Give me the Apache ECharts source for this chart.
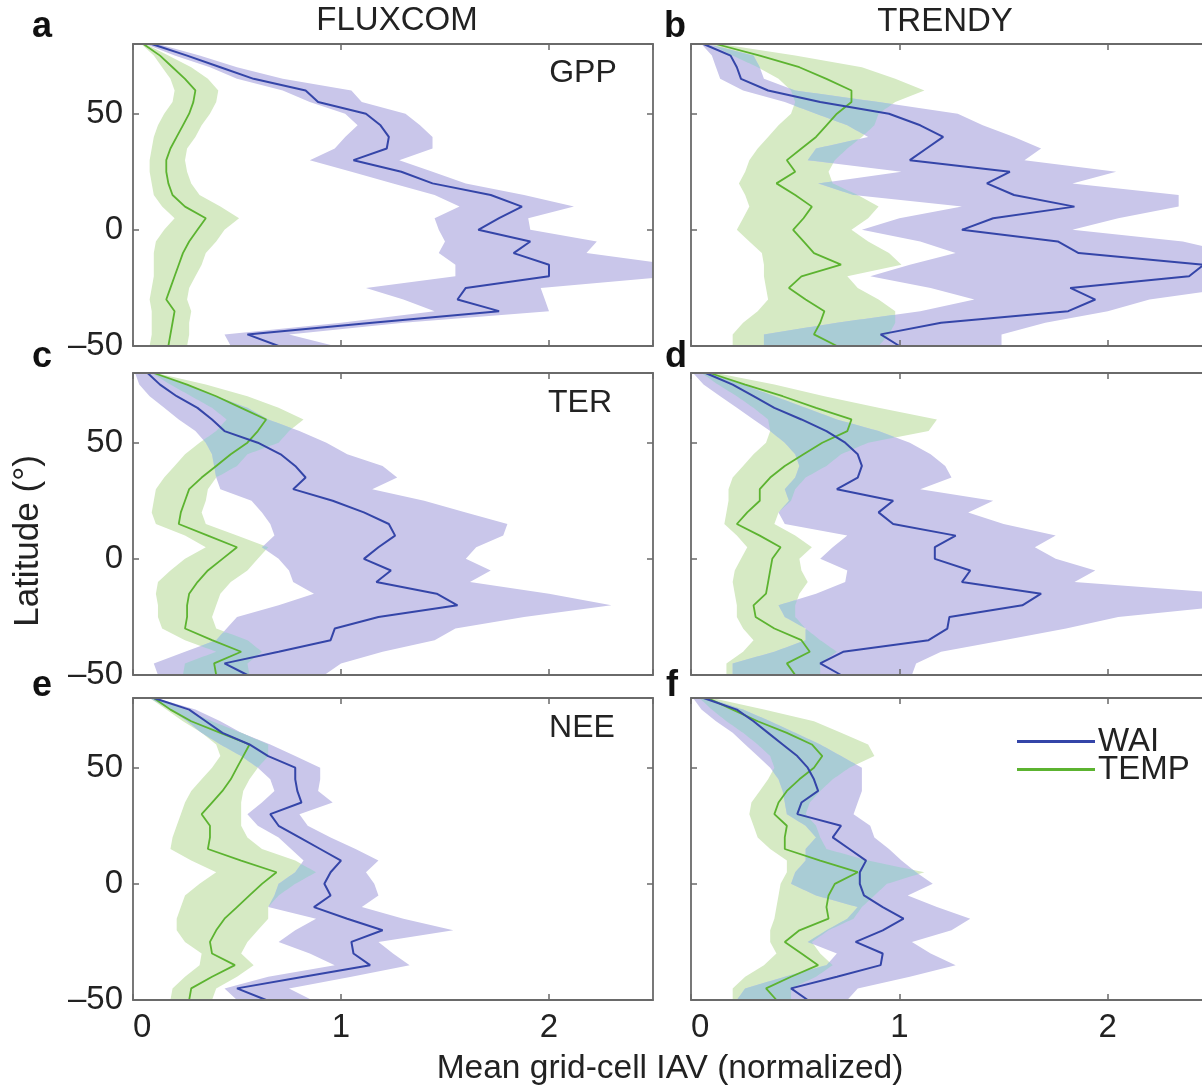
<!DOCTYPE html>
<html><head><meta charset="utf-8">
<script src="https://cdn.jsdelivr.net/npm/echarts@6/dist/echarts.min.js"></script>
<style>html,body{margin:0;padding:0;background:#fff;overflow:hidden;width:1202px;height:1089px}#c{width:1230px;height:1089px}</style>
</head><body><div id="c"></div>
<script>
// Latitude grid (degrees)
const LAT = [80,75,70,65,60,55,50,45,40,35,30,25,20,15,10,5,0,-5,-10,-15,-20,-25,-30,-35,-40,-45,-50,-55];

// a: FLUXCOM GPP
const aWai    = [0.09,0.26,0.42,0.58,0.83,0.89,1.12,1.19,1.23,1.22,1.06,1.29,1.44,1.72,1.87,1.76,1.66,1.91,1.83,2.00,2.00,1.60,1.56,1.76,1.15,0.55,0.70,0.80];
const aWaiLo  = [0.06,0.20,0.37,0.50,0.72,0.85,1.02,1.08,1.02,0.97,0.85,1.05,1.25,1.45,1.57,1.45,1.47,1.50,1.47,1.55,1.55,1.12,1.30,1.45,1.00,0.44,0.47,0.50];
const aWaiHi  = [0.12,0.32,0.50,0.72,1.05,1.10,1.31,1.38,1.44,1.44,1.28,1.44,1.60,1.88,2.12,1.90,1.91,2.23,2.18,2.60,2.60,1.96,1.98,2.00,1.30,0.75,0.97,1.00];
const aTemp   = [0.05,0.13,0.19,0.25,0.30,0.29,0.27,0.24,0.21,0.18,0.16,0.16,0.17,0.19,0.25,0.35,0.31,0.27,0.24,0.22,0.20,0.18,0.16,0.20,0.19,0.18,0.17,0.17];
const aTempLo = [0.04,0.10,0.14,0.18,0.20,0.19,0.15,0.12,0.10,0.09,0.08,0.08,0.09,0.10,0.14,0.20,0.15,0.11,0.10,0.10,0.10,0.09,0.08,0.09,0.09,0.09,0.08,0.08];
const aTempHi = [0.06,0.17,0.28,0.36,0.41,0.40,0.37,0.33,0.30,0.26,0.25,0.26,0.28,0.32,0.42,0.51,0.44,0.40,0.35,0.33,0.30,0.27,0.26,0.28,0.27,0.27,0.26,0.26];

// b: TRENDY GPP
const bWai    = [0.06,0.19,0.22,0.24,0.37,0.62,0.95,1.10,1.21,1.13,1.05,1.53,1.42,1.55,1.84,1.45,1.30,1.76,1.86,2.46,2.39,1.82,1.94,1.81,1.20,0.91,1.00,1.05];
const bWaiLo  = [0.05,0.10,0.12,0.14,0.25,0.45,0.60,0.75,0.85,0.60,0.56,1.01,0.61,0.78,1.30,1.00,0.82,1.10,1.27,1.05,0.86,1.15,1.36,1.10,0.70,0.35,0.35,0.35];
const bWaiHi  = [0.08,0.30,0.33,0.35,0.50,0.90,1.28,1.40,1.55,1.68,1.60,2.04,1.83,2.34,2.34,2.05,1.83,2.36,2.60,2.60,2.60,2.60,2.20,2.00,1.70,1.49,1.49,1.49];
const bTemp   = [0.12,0.33,0.52,0.65,0.77,0.77,0.70,0.65,0.60,0.53,0.46,0.50,0.41,0.50,0.58,0.54,0.49,0.54,0.59,0.72,0.53,0.47,0.55,0.64,0.62,0.59,0.70,0.72];
const bTempLo = [0.09,0.20,0.32,0.42,0.48,0.50,0.48,0.42,0.37,0.32,0.28,0.26,0.23,0.26,0.28,0.25,0.22,0.28,0.34,0.35,0.35,0.36,0.37,0.32,0.25,0.20,0.20,0.20];
const bTempHi = [0.14,0.50,0.82,0.98,1.12,0.98,0.90,0.88,0.82,0.75,0.69,0.66,0.68,0.80,0.90,0.85,0.77,0.85,0.95,1.01,0.75,0.80,0.90,0.98,0.98,0.95,0.90,0.90];

// c: FLUXCOM TER
const cWai    = [0.07,0.13,0.21,0.31,0.38,0.44,0.60,0.71,0.78,0.83,0.77,0.96,1.11,1.23,1.26,1.18,1.11,1.24,1.17,1.46,1.56,1.18,0.97,0.95,0.70,0.44,0.55,0.62];
const cWaiLo  = [0.01,0.03,0.08,0.15,0.22,0.30,0.35,0.38,0.39,0.40,0.42,0.57,0.62,0.66,0.68,0.62,0.70,0.75,0.77,0.87,0.70,0.50,0.45,0.40,0.25,0.10,0.12,0.15];
const cWaiHi  = [0.09,0.25,0.40,0.55,0.65,0.80,0.93,1.03,1.20,1.27,1.15,1.40,1.60,1.80,1.78,1.65,1.60,1.72,1.62,2.00,2.30,1.88,1.55,1.45,1.20,1.00,0.92,0.95];
const cTemp   = [0.10,0.26,0.40,0.52,0.64,0.60,0.55,0.47,0.40,0.33,0.27,0.25,0.23,0.22,0.36,0.50,0.43,0.36,0.31,0.27,0.26,0.26,0.25,0.38,0.52,0.39,0.40,0.40];
const cTempLo = [0.09,0.18,0.28,0.38,0.45,0.40,0.32,0.25,0.20,0.15,0.11,0.10,0.09,0.11,0.25,0.35,0.25,0.18,0.12,0.11,0.12,0.12,0.14,0.25,0.40,0.25,0.24,0.24];
const cTempHi = [0.11,0.35,0.55,0.70,0.82,0.75,0.70,0.55,0.50,0.40,0.36,0.35,0.33,0.35,0.50,0.65,0.60,0.55,0.47,0.42,0.40,0.38,0.40,0.55,0.62,0.55,0.56,0.56];

// d: TRENDY TER
const dWai    = [0.07,0.20,0.30,0.40,0.53,0.65,0.74,0.80,0.82,0.80,0.70,0.97,0.90,0.97,1.27,1.17,1.17,1.34,1.30,1.68,1.59,1.24,1.23,1.14,0.73,0.62,0.72,0.78];
const dWaiLo  = [0.01,0.06,0.14,0.22,0.30,0.38,0.45,0.50,0.52,0.50,0.45,0.47,0.42,0.45,0.75,0.68,0.62,0.75,0.74,0.60,0.42,0.45,0.55,0.55,0.40,0.20,0.20,0.22];
const dWaiHi  = [0.08,0.25,0.40,0.55,0.70,0.90,1.05,1.15,1.22,1.25,1.10,1.45,1.33,1.50,1.75,1.65,1.75,1.94,1.84,2.60,2.60,2.05,1.80,1.50,1.20,1.08,1.06,1.06];
const dTemp   = [0.09,0.26,0.44,0.60,0.77,0.75,0.63,0.54,0.45,0.38,0.33,0.33,0.27,0.22,0.33,0.43,0.39,0.38,0.37,0.36,0.30,0.31,0.40,0.53,0.57,0.46,0.50,0.52];
const dTempLo = [0.05,0.13,0.22,0.30,0.37,0.38,0.36,0.30,0.25,0.20,0.18,0.18,0.17,0.16,0.22,0.27,0.24,0.21,0.20,0.21,0.22,0.22,0.25,0.30,0.25,0.17,0.17,0.17];
const dTempHi = [0.12,0.40,0.64,0.90,1.18,1.14,0.85,0.72,0.65,0.55,0.50,0.48,0.42,0.40,0.50,0.58,0.52,0.53,0.56,0.52,0.50,0.50,0.55,0.62,0.70,0.62,0.62,0.62];

// e: FLUXCOM NEE
const eWai    = [0.10,0.27,0.35,0.43,0.56,0.65,0.78,0.78,0.79,0.81,0.66,0.70,0.80,0.90,1.00,0.95,0.92,0.95,0.87,1.03,1.20,1.05,1.06,1.14,0.82,0.50,0.64,0.72];
const eWaiLo  = [0.08,0.18,0.26,0.33,0.42,0.52,0.60,0.66,0.68,0.62,0.55,0.60,0.70,0.76,0.82,0.78,0.70,0.68,0.65,0.88,0.78,0.70,0.85,0.97,0.65,0.44,0.50,0.55];
const eWaiHi  = [0.11,0.30,0.42,0.52,0.66,0.78,0.90,0.90,0.89,0.96,0.80,0.84,0.95,1.07,1.18,1.12,1.16,1.18,1.10,1.30,1.54,1.18,1.25,1.33,1.05,0.75,0.86,0.90];
const eTemp   = [0.10,0.18,0.28,0.42,0.56,0.53,0.50,0.47,0.43,0.38,0.33,0.37,0.37,0.36,0.52,0.69,0.62,0.56,0.50,0.44,0.40,0.37,0.38,0.49,0.38,0.28,0.27,0.27];
const eTempLo = [0.08,0.16,0.24,0.33,0.40,0.42,0.38,0.33,0.28,0.25,0.23,0.21,0.19,0.18,0.28,0.40,0.32,0.25,0.23,0.21,0.21,0.25,0.33,0.32,0.25,0.19,0.18,0.18];
const eTempHi = [0.11,0.25,0.38,0.52,0.65,0.65,0.60,0.56,0.53,0.52,0.52,0.52,0.55,0.62,0.78,0.88,0.78,0.70,0.65,0.65,0.60,0.55,0.52,0.58,0.50,0.40,0.38,0.38];

// f: TRENDY NEE
const fWai    = [0.06,0.22,0.30,0.37,0.44,0.51,0.56,0.59,0.61,0.53,0.51,0.72,0.68,0.76,0.84,0.81,0.81,0.83,0.92,1.02,0.92,0.79,0.92,0.91,0.70,0.48,0.56,0.60];
const fWaiLo  = [0.01,0.05,0.12,0.20,0.26,0.32,0.38,0.42,0.44,0.45,0.46,0.55,0.60,0.55,0.55,0.50,0.48,0.60,0.80,0.75,0.65,0.56,0.70,0.65,0.45,0.26,0.22,0.22];
const fWaiHi  = [0.08,0.25,0.38,0.50,0.62,0.72,0.82,0.82,0.82,0.80,0.78,0.86,0.88,0.95,1.01,1.08,1.16,1.04,1.18,1.34,1.25,1.06,1.15,1.27,1.05,0.80,0.75,0.75];
const fTemp   = [0.08,0.20,0.32,0.46,0.58,0.63,0.59,0.52,0.46,0.42,0.40,0.46,0.45,0.45,0.62,0.80,0.69,0.66,0.65,0.66,0.52,0.45,0.53,0.61,0.48,0.36,0.41,0.43];
const fTempLo = [0.04,0.10,0.17,0.25,0.32,0.38,0.40,0.37,0.33,0.29,0.28,0.30,0.32,0.38,0.46,0.46,0.43,0.42,0.41,0.40,0.38,0.38,0.41,0.35,0.26,0.20,0.20,0.20];
const fTempHi = [0.10,0.35,0.59,0.72,0.85,0.88,0.76,0.68,0.62,0.57,0.55,0.60,0.62,0.65,0.85,1.12,0.94,0.88,0.82,0.78,0.66,0.58,0.62,0.68,0.60,0.48,0.48,0.48];

// Axis ticks
const X_TICKS = [0, 1, 2];
const Y_TICKS = [-50, 0, 50];
const SERIES_NAMES = ['WAI', 'TEMP'];
const COL_TITLES = ['FLUXCOM', 'TRENDY'];
const ROW_LABELS = ['GPP', 'TER', 'NEE'];
const PANEL_LETTERS = ['a','b','c','d','e','f'];

const PANELS = [
  {wai:aWai, waiLo:aWaiLo, waiHi:aWaiHi, temp:aTemp, tempLo:aTempLo, tempHi:aTempHi},
  {wai:bWai, waiLo:bWaiLo, waiHi:bWaiHi, temp:bTemp, tempLo:bTempLo, tempHi:bTempHi},
  {wai:cWai, waiLo:cWaiLo, waiHi:cWaiHi, temp:cTemp, tempLo:cTempLo, tempHi:cTempHi},
  {wai:dWai, waiLo:dWaiLo, waiHi:dWaiHi, temp:dTemp, tempLo:dTempLo, tempHi:dTempHi},
  {wai:eWai, waiLo:eWaiLo, waiHi:eWaiHi, temp:eTemp, tempLo:eTempLo, tempHi:eTempHi},
  {wai:fWai, waiLo:fWaiLo, waiHi:fWaiHi, temp:fTemp, tempLo:fTempLo, tempHi:fTempHi}
];

// ---------- layout & style ----------
const FONT = "'Liberation Sans', Arial, Helvetica, sans-serif";
const COL_LEFT = [133, 691];
const COL_W = [520, 521];
const ROW_TOP = [44, 373, 698];
const PANEL_H = 302;
const FRAME = '#6a6a6a';
const TXT = '#222';
const BLUE = '#3445a8';
const GREEN = '#5cb330';
const BLUE_BAND = '#c9c6ea';
const GREEN_BAND = '#d6eac4';
const OVERLAP_BAND = '#a9ccd5';

function clipRect(params){
  const c = params.coordSys;
  return {type:'rect', shape:{x:c.x, y:c.y, width:c.width, height:c.height}};
}
function bandRender(fill){
  return function(params, api){
    if (params.dataIndexInside !== 0) return null;
    const n = params.dataInsideLength;
    const pts = [];
    for (let k = 0; k < n; k++) pts.push(api.coord([api.value(0,k), api.value(2,k)]));
    for (let k = n-1; k >= 0; k--) pts.push(api.coord([api.value(1,k), api.value(2,k)]));
    return {type:'polygon', shape:{points:pts}, style:{fill:fill}, clipPath:clipRect(params), silent:true};
  };
}
// overlap of the two bands (intersection of intervals), rendered from data via coord()
function overlapRender(params, api){
  if (params.dataIndexInside !== 0) return null;
  const n = params.dataInsideLength;
  const rows = [];
  for (let k = 0; k < n; k++) rows.push([api.value(0,k), api.value(1,k), api.value(2,k), api.value(3,k), api.value(4,k)]);
  const S = 12;
  const samples = [];
  for (let k = 0; k < n-1; k++) {
    for (let s = 0; s < S; s++) {
      const t = s / S, r0 = rows[k], r1 = rows[k+1];
      samples.push(r0.map((q, j) => q + (r1[j]-q)*t));
    }
  }
  samples.push(rows[n-1]);
  const children = [];
  let run = [];
  const flush = () => {
    if (run.length > 1) {
      const pts = [];
      run.forEach(r => pts.push(api.coord([r[0], r[2]])));
      for (let i = run.length-1; i >= 0; i--) pts.push(api.coord([run[i][1], run[i][2]]));
      children.push({type:'polygon', shape:{points:pts}, style:{fill:OVERLAP_BAND}, silent:true});
    }
    run = [];
  };
  samples.forEach(v => {
    const lo = Math.max(v[0], v[2]), hi = Math.min(v[1], v[3]);
    if (hi > lo) run.push([lo, hi, v[4]]); else flush();
  });
  flush();
  return {type:'group', children:children, clipPath:clipRect(params)};
}

const grids = [], xAxes = [], yAxes = [], series = [];
const axisLine = {show:true, onZero:false, lineStyle:{color:FRAME, width:1.8}};
const axisTick = {show:true, inside:true, length:6, lineStyle:{color:FRAME, width:1.5}};

PANELS.forEach((p, i) => {
  const row = Math.floor(i/2), col = i % 2;
  grids.push({left:COL_LEFT[col], top:ROW_TOP[row], width:COL_W[col], height:PANEL_H, containLabel:false});
  xAxes.push({
    gridIndex:i, type:'value', position:'bottom', min:0, max:2.5, interval:1, z:10,
    axisLine, axisTick, splitLine:{show:false},
    axisLabel:{show:row===2, fontSize:33, fontFamily:FONT, color:TXT, margin:11, showMaxLabel:false,
      alignMinLabel:'left',
      formatter:v => X_TICKS.indexOf(v) >= 0 ? String(v) : ''}
  });
  xAxes.push({
    gridIndex:i, type:'value', position:'top', min:0, max:2.5, interval:1, z:10,
    axisLine, axisTick, splitLine:{show:false}, axisLabel:{show:false}
  });
  yAxes.push({
    gridIndex:i, type:'value', position:'left', min:-50, max:80, interval:50, z:10,
    axisLine, axisTick, splitLine:{show:false},
    axisLabel:{show:col===0, fontSize:33, fontFamily:FONT, color:TXT, margin:10, showMaxLabel:false,
      formatter:v => Y_TICKS.indexOf(v) >= 0 ? (v < 0 ? '\u2013' + (-v) : String(v)) : ''}
  });
  yAxes.push({
    gridIndex:i, type:'value', position:'right', min:-50, max:80, interval:50, z:10,
    axisLine, axisTick, splitLine:{show:false}, axisLabel:{show:false}
  });
  const xa = 2*i, ya = 2*i;
  series.push({
    type:'custom', xAxisIndex:xa, yAxisIndex:ya, z:1, silent:true,
    data: LAT.map((l,k) => [p.tempLo[k], p.tempHi[k], l]),
    encode:{x:[0,1], y:2}, renderItem: bandRender(GREEN_BAND)
  });
  series.push({
    type:'custom', xAxisIndex:xa, yAxisIndex:ya, z:2, silent:true,
    data: LAT.map((l,k) => [p.waiLo[k], p.waiHi[k], l]),
    encode:{x:[0,1], y:2}, renderItem: bandRender(BLUE_BAND)
  });
  series.push({
    type:'custom', xAxisIndex:xa, yAxisIndex:ya, z:3, silent:true,
    data: LAT.map((l,k) => [p.waiLo[k], p.waiHi[k], p.tempLo[k], p.tempHi[k], l]),
    encode:{x:[0,1,2,3], y:4}, renderItem: overlapRender
  });
  series.push({
    name:SERIES_NAMES[0], type:'line', xAxisIndex:xa, yAxisIndex:ya, z:5,
    data: LAT.map((l,k) => [p.wai[k], l]), showSymbol:false, symbol:'none',
    lineStyle:{color:BLUE, width:2}, itemStyle:{color:BLUE}, clip:true
  });
  series.push({
    name:SERIES_NAMES[1], type:'line', xAxisIndex:xa, yAxisIndex:ya, z:4,
    data: LAT.map((l,k) => [p.temp[k], l]), showSymbol:false, symbol:'none',
    lineStyle:{color:GREEN, width:1.8}, itemStyle:{color:GREEN}, clip:true
  });
});

function txt(text, x, y, size, opts){
  opts = opts || {};
  return {type:'text', x:x, y:y, rotation:opts.rotation || 0, z:20,
    style:{text:text, font:(opts.bold ? 'bold ' : '') + size + 'px ' + FONT, fill:opts.fill || TXT,
      align:'center', verticalAlign:'middle'}};
}
const graphics = [
  txt(COL_TITLES[0], 397, 21, 33),
  txt(COL_TITLES[1], 945, 22, 33),
  txt(PANEL_LETTERS[0], 42, 27, 36, {bold:true, fill:'#111'}),
  txt(PANEL_LETTERS[1], 675, 27, 36, {bold:true, fill:'#111'}),
  txt(PANEL_LETTERS[2], 42, 357, 36, {bold:true, fill:'#111'}),
  txt(PANEL_LETTERS[3], 676, 357, 36, {bold:true, fill:'#111'}),
  txt(PANEL_LETTERS[4], 42, 686, 36, {bold:true, fill:'#111'}),
  txt(PANEL_LETTERS[5], 672, 686, 36, {bold:true, fill:'#111'}),
  txt(ROW_LABELS[0], 583, 73, 32),
  txt(ROW_LABELS[1], 580, 403, 32),
  txt(ROW_LABELS[2], 582, 728, 32),
  txt('Latitude (\u00b0)', 28, 541, 35, {rotation:Math.PI/2}),
  txt('Mean grid-cell IAV (normalized)', 670, 1069, 33.5)
];

const chart = echarts.init(document.getElementById('c'), null, {renderer:'canvas', width:1230, height:1089});
chart.setOption({
  animation:false,
  backgroundColor:'#ffffff',
  grid:grids, xAxis:xAxes, yAxis:yAxes, series:series,
  legend:{
    data:SERIES_NAMES, orient:'vertical', left:1012, top:720, icon:'rect',
    itemWidth:78, itemHeight:3, itemGap:-5, selectedMode:false,
    textStyle:{fontSize:33, fontFamily:FONT, color:TXT, padding:[0,0,0,-2]}
  },
  graphic:graphics
});
</script></body></html>
